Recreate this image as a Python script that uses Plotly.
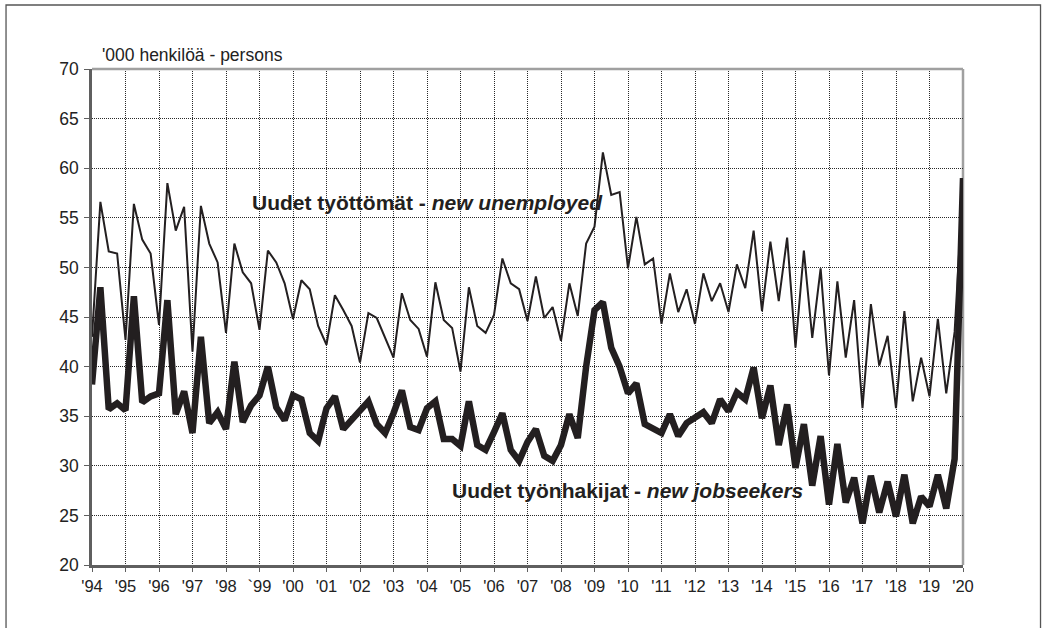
import plotly.graph_objects as go

# Quarterly series, 1994Q1 - 2020Q1, thousands of persons
unemployed = [
    43.0, 56.6, 51.6, 51.4, 42.7, 56.4, 52.8, 51.4, 44.2, 58.5,
    53.7, 56.1, 41.5, 56.2, 52.4, 50.5, 43.4, 52.4, 49.5, 48.4,
    43.7, 51.7, 50.5, 48.4, 44.8, 48.7, 47.8, 44.1, 42.2, 47.2,
    45.7, 44.1, 40.4, 45.4, 44.9, 42.9, 40.9, 47.4, 44.7, 43.8,
    41.0, 48.5, 44.7, 43.9, 39.5, 48.0, 44.1, 43.4, 45.2, 50.9,
    48.4, 47.8, 44.6, 49.1, 44.9, 46.0, 42.6, 48.4, 45.1, 52.4,
    54.1, 61.6, 57.3, 57.6, 49.9, 55.1, 50.3, 50.9, 44.3, 49.4,
    45.5, 47.8, 44.3, 49.4, 46.6, 48.4, 45.5, 50.3, 47.9, 53.7,
    45.6, 52.6, 46.6, 53.0, 41.9, 51.7, 42.9, 49.9, 39.1, 48.6,
    40.9, 46.7, 35.8, 46.3, 40.1, 43.1, 35.8, 45.6, 36.5, 40.9,
    37.0, 44.8, 37.3, 43.5, 58.5,
]
jobseekers = [
    38.2, 48.0, 35.7, 36.3, 35.6, 47.1, 36.4, 37.0, 37.3, 46.7,
    35.2, 37.5, 33.3, 43.0, 34.3, 35.4, 33.7, 40.5, 34.4, 36.1,
    37.1, 40.0, 35.9, 34.6, 37.1, 36.7, 33.3, 32.5, 35.8, 37.0,
    33.7, 34.7, 35.7, 36.5, 34.2, 33.3, 35.3, 37.6, 33.9, 33.6,
    35.8, 36.5, 32.7, 32.7, 32.0, 36.5, 32.1, 31.6, 33.4, 35.3,
    31.6, 30.5, 32.4, 33.7, 31.0, 30.5, 32.1, 35.2, 32.8, 40.0,
    45.7, 46.5, 41.9, 40.0, 37.3, 38.3, 34.2, 33.8, 33.3, 35.2,
    33.0, 34.3, 34.9, 35.4, 34.3, 36.7, 35.5, 37.4, 36.7, 39.9,
    34.8, 38.1, 32.1, 36.2, 29.8, 34.2, 28.0, 33.0, 26.1, 32.2,
    26.3, 28.8, 24.2, 29.0, 25.3, 28.4, 24.9, 29.1, 24.2, 26.9,
    25.9, 29.1, 25.7, 30.7, 59.0,
]
first_year = 1994
year_ticks = list(range(1994, 2021))
year_labels = ["'94", "'95", "'96", "'97", "'98", "`99", "'00", "'01", "'02",
               "'03", "'04", "'05", "'06", "'07", "'08", "'09", "'10", "'11",
               "'12", "'13", "'14", "'15", "'16", "'17", "'18", "'19", "'20"]
y_ticks = [20, 25, 30, 35, 40, 45, 50, 55, 60, 65, 70]

quarters = [first_year + q / 4 for q in range(len(unemployed))]

INK = "#231f20"
FONT = "Liberation Sans, Arial, sans-serif"

fig = go.Figure()
fig.add_trace(go.Scatter(x=quarters, y=unemployed, mode="lines",
                         line=dict(color=INK, width=2), showlegend=False))
fig.add_trace(go.Scatter(x=quarters, y=jobseekers, mode="lines",
                         line=dict(color=INK, width=6.5), showlegend=False))

grid = dict(showgrid=True, gridcolor="#2a2a2a", gridwidth=1, griddash="1px,1px")

fig.update_xaxes(range=[1994, 2020], tickvals=year_ticks, ticktext=year_labels,
                 tickangle=0,
                 showline=True, linecolor="#5f5f5f", linewidth=2.5,
                 ticks="outside", ticklen=4, tickcolor="#5f5f5f", tickwidth=1,
                 tickfont=dict(family=FONT, size=16.5, color="#222222"),
                 zeroline=False, **grid)
fig.update_yaxes(range=[20, 70], tickvals=y_ticks,
                 showline=True, linecolor="#5f5f5f", linewidth=2.5,
                 ticks="outside", ticklen=5, tickcolor="#5f5f5f", tickwidth=1,
                 ticklabelstandoff=2,
                 tickfont=dict(family=FONT, size=17.5, color="#222222"),
                 zeroline=False, **grid)

# light frame along the top and right of the plotting area
fig.add_shape(type="line", xref="paper", yref="paper", x0=0, x1=1, y0=1, y1=1,
              line=dict(color="#a0a0a0", width=2.5), layer="above")
fig.add_shape(type="line", xref="paper", yref="paper", x0=1, x1=1, y0=0, y1=1,
              line=dict(color="#a0a0a0", width=2.5), layer="below")

# outer border of the figure
fig.add_shape(type="rect", xref="paper", yref="paper",
              x0=-0.0987, x1=1.0890, y0=-0.2, y1=1.129,
              line=dict(color="#555555", width=1.3), layer="below")

fig.add_annotation(xref="paper", yref="paper", x=0.0092, y=1.028,
                   xanchor="left", yanchor="middle", showarrow=False,
                   text="'000 henkilöä - persons",
                   font=dict(family=FONT, size=17.5, color="#222222"))
fig.add_annotation(xref="paper", yref="paper", x=0.1814, y=0.730,
                   xanchor="left", yanchor="middle", showarrow=False,
                   text="<b>Uudet työttömät - <i>new unemployed</i></b>",
                   font=dict(family=FONT, size=21, color=INK))
fig.add_annotation(xref="paper", yref="paper", x=0.411, y=0.151,
                   xanchor="left", yanchor="middle", showarrow=False,
                   text="<b>Uudet työnhakijat - <i>new jobseekers</i></b>",
                   font=dict(family=FONT, size=21, color=INK))

fig.update_layout(width=1042, height=628,
                  margin=dict(l=92, r=79, t=69, b=63),
                  paper_bgcolor="white", plot_bgcolor="white",
                  font=dict(family=FONT, color="#222222"))

fig.write_html("out.html")
